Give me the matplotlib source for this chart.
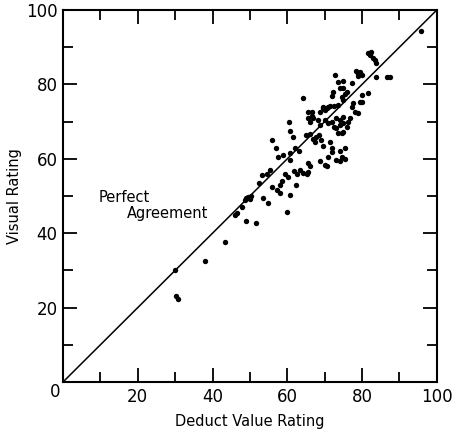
import numpy as np
import matplotlib
matplotlib.use('Agg')
import matplotlib.pyplot as plt
from matplotlib.ticker import MultipleLocator

# deduct value rating (x) vs visual rating (y)
deduct = [30.0, 30.2, 30.8, 38.0, 43.3, 46.0, 46.5, 48.0, 49.0, 51.6,
          49.0, 49.5, 50.0, 50.3, 48.7, 53.5, 54.8, 53.2, 54.5, 58.0,
          58.5, 57.2, 58.0, 62.3, 60.7, 65.2, 70.6, 59.9, 55.9, 57.0,
          60.4, 60.7, 61.5, 60.7, 60.7, 65.0, 66.0, 65.5, 66.6, 66.6,
          68.2, 69.5, 70.6, 71.0, 72.5, 67.0, 67.8, 68.5, 69.0, 67.5,
          71.0, 72.0, 74.0, 74.6, 75.4, 68.7, 70.0, 73.0, 74.0, 75.4,
          65.5, 66.0, 63.5, 64.2, 61.8, 62.5, 59.5, 60.3, 65.5, 72.7,
          73.5, 74.0, 75.0, 75.0, 72.0, 72.2, 64.2, 74.6, 75.5, 76.0,
          77.3, 80.0, 81.5, 79.4, 80.0, 77.3, 77.5, 73.5, 75.0, 69.5,
          71.4, 65.5, 66.0, 67.0, 68.7, 70.0, 76.2, 76.7, 78.0, 79.0,
          73.0, 74.0, 75.0, 76.0, 68.7, 70.0, 71.0, 72.0, 73.0, 74.0,
          75.0, 72.5, 74.6, 73.5, 75.0, 72.0, 78.5, 79.0, 79.5, 80.0,
          78.8, 81.5, 82.0, 82.8, 83.5, 83.8, 82.5, 83.7, 86.6, 87.4,
          95.7, 56.0, 55.4, 52.5, 57.5, 63.0, 69.5, 71.5, 62.0, 58.8]
visual = [30.2, 23.0, 22.4, 32.5, 37.6, 45.0, 45.4, 47.0, 43.3, 42.7,
          49.5, 49.8, 49.3, 50.0, 49.0, 49.5, 48.1, 55.6, 55.9, 53.0,
          54.0, 51.6, 50.9, 53.0, 50.3, 55.9, 58.1, 45.7, 65.0, 62.9,
          69.9, 67.5, 65.9, 61.6, 59.7, 66.5, 66.8, 71.0, 71.5, 72.5,
          70.4, 73.7, 73.7, 74.0, 74.3, 65.2, 65.8, 66.3, 65.0, 64.5,
          60.5, 61.8, 62.0, 60.6, 62.9, 59.3, 58.3, 59.8, 59.4, 60.0,
          59.0, 58.0, 57.0, 56.2, 56.8, 56.0, 56.0, 55.0, 56.5, 82.5,
          80.6, 79.0, 81.0, 79.0, 77.0, 78.0, 76.3, 76.5, 77.5, 78.0,
          80.4, 77.2, 77.7, 75.3, 75.3, 74.0, 75.0, 74.5, 75.8, 74.0,
          74.3, 72.6, 70.0, 71.0, 72.6, 73.1, 70.0, 71.0, 72.5, 72.4,
          68.3, 69.0, 69.6, 68.5, 69.0, 70.4, 69.5, 70.0, 71.0, 70.5,
          71.3, 68.5, 67.0, 67.0, 67.2, 62.9, 83.5, 82.8, 83.2, 82.5,
          82.2, 88.5, 87.8, 87.0, 86.5, 85.8, 88.7, 82.0, 82.0, 82.0,
          94.4, 52.5, 57.0, 53.5, 60.5, 62.0, 63.5, 64.5, 63.0, 61.0]

fig = plt.figure(figsize=(4.55, 4.37), dpi=100)
ax = fig.add_axes([0.1385, 0.1259, 0.8215, 0.8512])

# perfect agreement line
ax.plot([0, 100], [0, 100], color='black', lw=1.1, zorder=2)
ax.scatter(deduct, visual, s=15, color='black', linewidths=0, zorder=3)

ax.set_xlim(0, 100)
ax.set_ylim(0, 100)
ax.xaxis.set_major_locator(MultipleLocator(20))
ax.yaxis.set_major_locator(MultipleLocator(20))
ax.xaxis.set_minor_locator(MultipleLocator(10))
ax.yaxis.set_minor_locator(MultipleLocator(10))
ax.tick_params(which='both', direction='in', top=True, right=True, width=1.3)
ax.tick_params(which='major', length=10, labelsize=12, pad=4)
ax.tick_params(which='minor', length=7)
for s in ax.spines.values():
    s.set_linewidth(1.5)

xt = [20, 40, 60, 80, 100]
ax.set_xticks([0] + xt)
ax.set_xticklabels([''] + [str(v) for v in xt])
ax.set_yticks([0] + xt)
ax.set_yticklabels([''] + [str(v) for v in xt])
ax.text(-0.02, -0.027, '0', transform=ax.transAxes, ha='center', va='center', fontsize=12)

ax.set_xlabel('Deduct Value Rating', fontsize=10.5, labelpad=6)
ax.set_ylabel('Visual Rating', fontsize=10.5, labelpad=3)

ax.text(9.4, 49.5, 'Perfect', fontsize=10.5, va='center', ha='left')
ax.text(17.1, 45.4, 'Agreement', fontsize=10.5, va='center', ha='left')

fig.savefig('out.png', dpi=100)
